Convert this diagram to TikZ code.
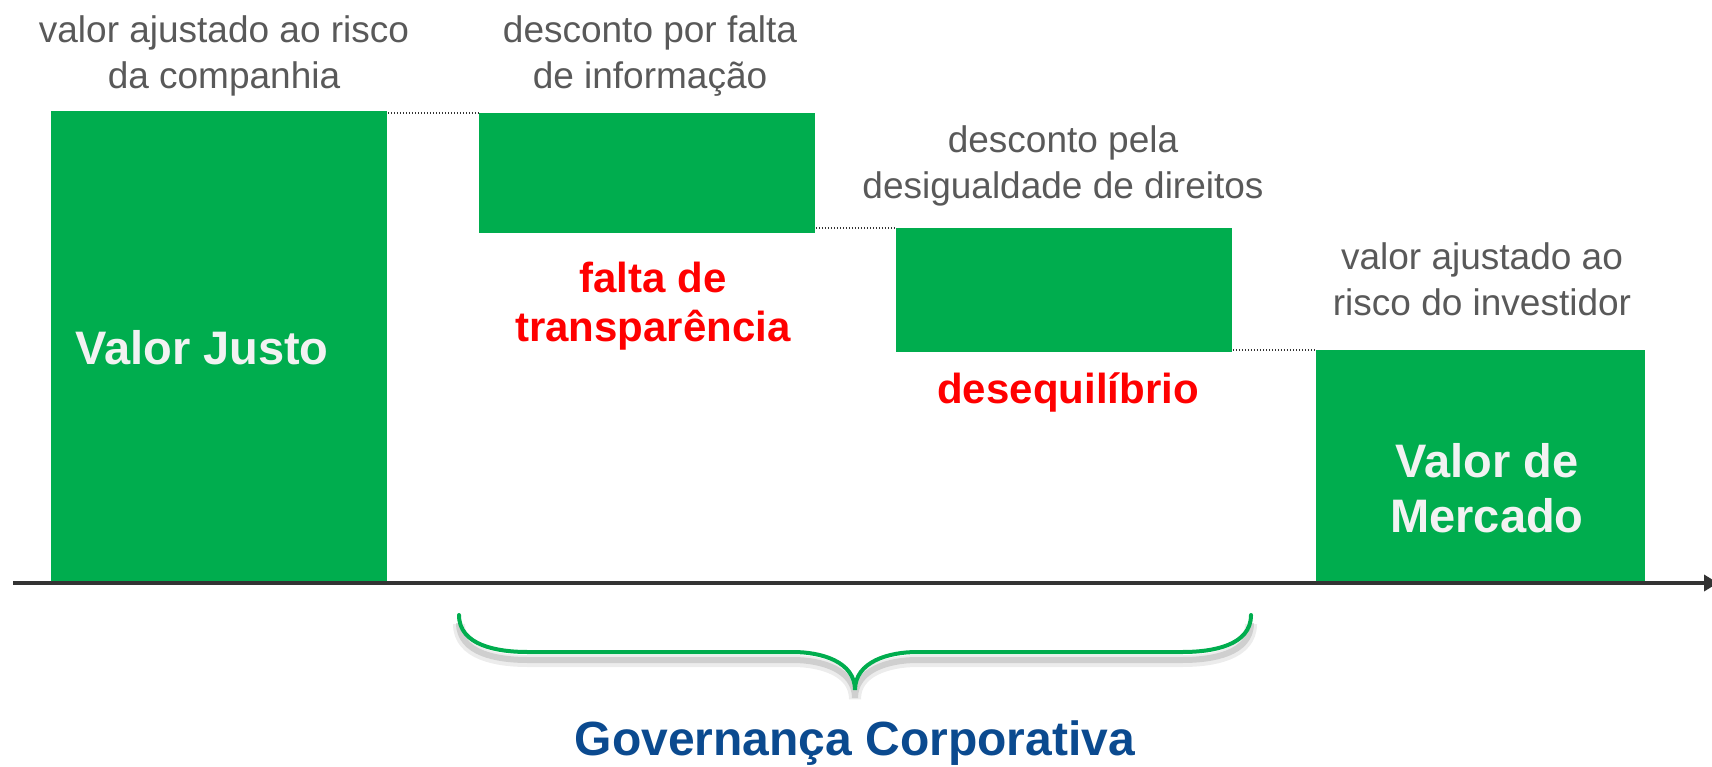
\documentclass[tikz,border=0pt]{standalone}
\usepackage{fontspec}
\setmainfont{Liberation Sans}
\usetikzlibrary{arrows.meta, positioning, calc}
\definecolor{bargreen}{HTML}{00AD4E}
\definecolor{notegray}{HTML}{595959}
\definecolor{flawred}{HTML}{FF0000}
\definecolor{govblue}{HTML}{0B4A8F}
\definecolor{axisgray}{HTML}{333333}
\tikzset{
    bar/.style={
        rectangle, fill=bargreen, draw=none,
        inner sep=0pt, anchor=north west
    },
    note/.style={
        align=center, text=notegray, inner sep=0pt,
        font=\fontsize{18.5}{23}\selectfont
    },
    flaw/.style={
        align=center, text=flawred, inner sep=0pt,
        font=\fontsize{21}{24.5}\selectfont\bfseries
    },
    barlabel/.style={
        align=center, text=white!95!black, inner sep=0pt,
        font=\fontsize{23.5}{27.8}\selectfont\bfseries
    },
    govlabel/.style={
        text=govblue, inner sep=0pt,
        font=\fontsize{24}{28}\selectfont\bfseries
    },
    conn/.style={
        draw=axisgray, line width=0.7pt, dash pattern=on 0.7pt off 0.8pt
    },
    axis/.style={
        -{Triangle[length=7pt, width=8pt]}, line width=2.1pt, color=axisgray
    },
    brace/.style={
        draw=bargreen, line width=2pt, line cap=round,
        preaction={draw=black!15, line width=6pt, opacity=0.5,
            transform canvas={yshift=-4.5pt}},
        preaction={draw=black!30, line width=3pt, opacity=0.5,
            transform canvas={yshift=-4pt}}
    }
}

\begin{document}
\begin{tikzpicture}[x=0.5pt, y=-0.5pt]

    \useasboundingbox (0,0) rectangle (1712,766);

    % Bars
    \node[bar, minimum width=168pt, minimum height=235pt] (fair) at (51,111) {};
    \node[bar, minimum width=168pt, minimum height=60pt] (info) at (479,113) {};
    \node[bar, minimum width=168pt, minimum height=62pt] (rights) at (896,228) {};
    \node[bar, minimum width=164.5pt, minimum height=115.5pt] (market) at (1316,350) {};

    % Labels
    \node[barlabel] (fairlabel) at (202,348) {Valor Justo};
    \node[barlabel] (marketlabel) at (1487,488) {Valor de\\Mercado};
    \node[note] (riskco) at (224,56) {valor ajustado ao risco\\da companhia};
    \node[note] (infodisc) at (650,56) {desconto por falta\\de informação};
    \node[note] (rightsdisc) at (1063,166) {desconto pela\\desigualdade de direitos};
    \node[note] (riskinv) at (1482,279) {valor ajustado ao\\risco do investidor};
    \node[flaw] (opacity) at (653,306) {falta de\\transparência};
    \node[flaw] (imbalance) at (1068,392) {desequilíbrio};
    \node[govlabel, anchor=base] (gov) at (855,755) {Governança Corporativa};

    % Connectors
    \draw[conn] (fair.east |- info.north west) -- (info.north west);
    \draw[conn] (info.east |- rights.north west) -- (rights.north west);
    \draw[conn] (rights.east |- market.north west) -- (market.north west);

    % Axis
    \coordinate (origin) at (13,583);
    \coordinate (tip) at (1718,583);
    \draw[axis] (origin) -- (tip);

    % Brace
    \coordinate (braceleft) at (459,615);
    \coordinate (bracetip) at (855,690);
    \coordinate (braceright) at (1251,615);
    \draw[brace] (braceleft) to[out=-90, in=180] (528,652) -- (793,652)
        to[out=0, in=90] (bracetip) to[out=90, in=180] (917,652)
        -- (1182,652) to[out=0, in=-90] (braceright);

\end{tikzpicture}
\end{document}
